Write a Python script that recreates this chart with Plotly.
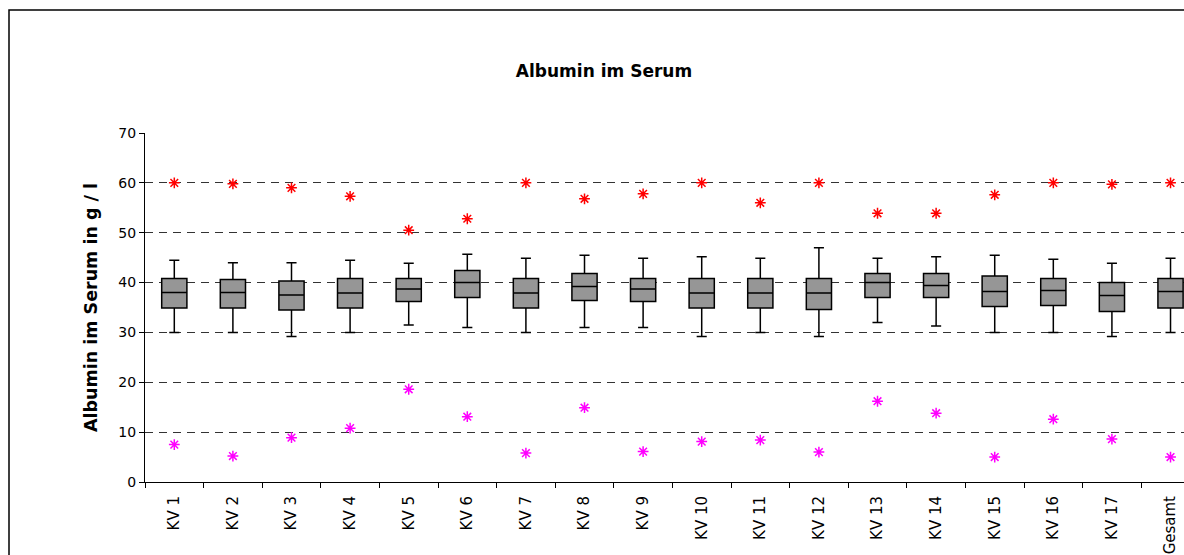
import plotly.graph_objects as go

categories = ["KV 1", "KV 2", "KV 3", "KV 4", "KV 5", "KV 6", "KV 7", "KV 8", "KV 9",
              "KV 10", "KV 11", "KV 12", "KV 13", "KV 14", "KV 15", "KV 16", "KV 17", "Gesamt"]
whisker_low = [30.0, 30.0, 29.2, 30.0, 31.5, 31.0, 30.0, 31.0, 31.0,
               29.2, 30.0, 29.2, 32.0, 31.3, 30.0, 30.0, 29.2, 30.0]
q1 = [34.9, 34.9, 34.5, 34.9, 36.2, 37.0, 34.9, 36.4, 36.2,
      34.9, 34.9, 34.6, 37.0, 37.0, 35.2, 35.4, 34.2, 34.9]
median = [38.0, 38.0, 37.5, 37.9, 38.7, 40.0, 37.9, 39.2, 38.7,
          37.9, 37.9, 37.9, 40.0, 39.4, 38.2, 38.4, 37.4, 38.2]
q3 = [40.8, 40.6, 40.3, 40.8, 40.8, 42.4, 40.8, 41.8, 40.8,
      40.8, 40.8, 40.8, 41.8, 41.8, 41.3, 40.8, 40.0, 40.8]
whisker_high = [44.5, 44.0, 44.0, 44.5, 43.9, 45.7, 44.9, 45.5, 44.9,
                45.2, 44.9, 47.0, 44.9, 45.2, 45.5, 44.7, 43.9, 44.9]
maximum = [60.0, 59.8, 59.0, 57.3, 50.5, 52.8, 60.0, 56.8, 57.8,
           60.0, 56.0, 60.0, 53.9, 53.9, 57.6, 60.0, 59.7, 60.0]
minimum = [7.5, 5.2, 8.9, 10.8, 18.6, 13.1, 5.8, 14.9, 6.1,
           8.1, 8.4, 6.0, 16.2, 13.8, 5.0, 12.6, 8.6, 5.0]

FONT = "DejaVu Sans, Liberation Sans, Arial, sans-serif"

fig = go.Figure()

fig.add_trace(go.Box(
    x=categories, q1=q1, median=median, q3=q3,
    lowerfence=whisker_low, upperfence=whisker_high,
    boxpoints=False, fillcolor="#969696",
    line=dict(color="black", width=1.5),
    width=0.43, whiskerwidth=0.4, showlegend=False, hoverinfo="skip",
))

fig.add_trace(go.Scatter(
    x=categories, y=maximum, mode="markers",
    marker=dict(symbol="asterisk-open", size=9, color="#FF0000",
                line=dict(color="#FF0000", width=1.5)),
    showlegend=False,
))
fig.add_trace(go.Scatter(
    x=categories, y=minimum, mode="markers",
    marker=dict(symbol="asterisk-open", size=9, color="#FF00FF",
                line=dict(color="#FF00FF", width=1.5)),
    showlegend=False,
))

fig.update_layout(
    width=1184, height=555,
    margin=dict(l=145, r=0, t=133, b=73),
    paper_bgcolor="white", plot_bgcolor="white",
    font=dict(family=FONT, color="black", size=14),
    title=dict(text="<b>Albumin im Serum</b>", x=604/1184, xref="container", xanchor="center",
               y=1 - 71/555, yref="container", yanchor="middle",
               font=dict(size=17, color="black", family=FONT)),
)

fig.update_xaxes(
    type="category", range=[-0.5, 17.23],
    showline=True, linecolor="black", linewidth=1,
    ticks="outside", ticklen=5, tickcolor="black", tickson="boundaries",
    tickangle=-90, tickfont=dict(size=15, family=FONT), showgrid=False,
    ticklabelstandoff=7,
)
fig.update_yaxes(
    range=[0, 70], tickvals=[0, 10, 20, 30, 40, 50, 60, 70],
    showline=True, linecolor="black", linewidth=1,
    ticks="outside", ticklen=5, tickcolor="black",
    showgrid=True, gridcolor="#333333", gridwidth=1, griddash="8px,6px",
    zeroline=False, tickfont=dict(size=14, family=FONT),
    title=dict(text="<b>Albumin im Serum in g / l</b>", font=dict(size=17.5, family=FONT), standoff=16),
)

fig.add_shape(type="rect", xref="paper", yref="paper",
              x0=(9 - 145) / 1039, x1=1.05, y0=-0.6, y1=(482 - 10) / 349,
              line=dict(color="black", width=1.5), fillcolor="rgba(0,0,0,0)", layer="above")

fig.write_html("out.html", config={"displayModeBar": False},
               post_script="document.body.style.margin='0';document.body.style.overflow='hidden';")
